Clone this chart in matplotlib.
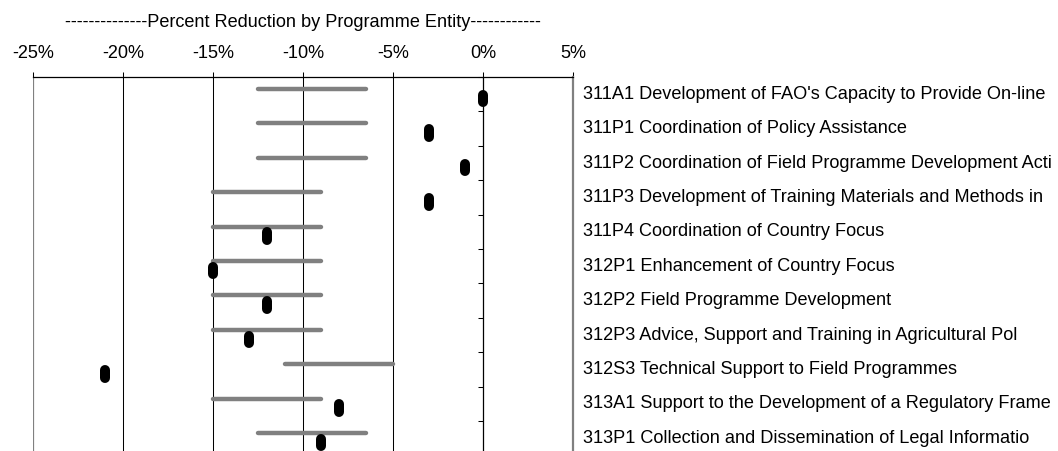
import matplotlib
matplotlib.use("Agg")
import matplotlib.pyplot as plt
from matplotlib import transforms

plt.rcParams['font.family'] = ['Liberation Sans', 'DejaVu Sans']

categories = [
    "311A1 Development of FAO's Capacity to Provide On-line",
    "311P1 Coordination of Policy Assistance",
    "311P2 Coordination of Field Programme Development Acti",
    "311P3 Development of Training Materials and Methods in",
    "311P4 Coordination of Country Focus",
    "312P1 Enhancement of Country Focus",
    "312P2 Field Programme Development",
    "312P3 Advice, Support and Training in Agricultural Pol",
    "312S3 Technical Support to Field Programmes",
    "313A1 Support to the Development of a Regulatory Frame",
    "313P1 Collection and Dissemination of Legal Informatio",
]
range_low = [-12.5, -12.5, -12.5, -15, -15, -15, -15, -15, -11, -15, -12.5]
range_mid = [-9.5, -9.5, -9.5, -12, -12, -12, -12, -12, -8, -12, -9.5]
range_high = [-6.5, -6.5, -6.5, -9, -9, -9, -9, -9, -5, -9, -6.5]
reduction = [0, -3, -1, -3, -12, -15, -12, -13, -21, -8, -9]
xticks = [-25, -20, -15, -10, -5, 0, 5]
xtick_labels = ["-25%", "-20%", "-15%", "-10%", "-5%", "0%", "5%"]
title = "--------------Percent Reduction by Programme Entity------------"

W, H = 1058, 451
fig = plt.figure(figsize=(W / 100, H / 100), dpi=100)
left_px, right_px, top_px = 33.3, 573.3, 77.0
row_px = 34.4
n = len(categories)
bottom_px = top_px + n * row_px
ax = fig.add_axes([left_px / W, 1 - bottom_px / H, (right_px - left_px) / W, (bottom_px - top_px) / H])
ax.set_xlim(xticks[0], xticks[-1])
ax.set_ylim(n - 0.5, -0.5)

fs = 13.1
# x axis on top
ax.xaxis.tick_top()
ax.set_xticks(xticks)
ax.set_xticklabels(xtick_labels, fontsize=fs)
ax.tick_params(axis='x', direction='out', length=3.6, width=0.75, color='black', pad=7)

# spines
ax.spines['top'].set_color('black')
ax.spines['top'].set_linewidth(0.9)
ax.spines['bottom'].set_visible(False)
ax.spines['right'].set_color('#808080')
ax.spines['right'].set_linewidth(1.6)
ax.spines['left'].set_position(('data', 0))
ax.spines['left'].set_color('black')
ax.spines['left'].set_linewidth(0.9)
ax.spines['left'].set_zorder(1)

# category ticks at boundaries on the 0% axis
ax.set_yticks([k + 0.5 for k in range(-1, n)])
ax.set_yticklabels([])
ax.tick_params(axis='y', direction='out', length=3.6, width=0.75, color='black', left=True, right=False)

# gridlines and left border
for xv in xticks[1:-2]:
    ax.axvline(xv, color='black', lw=0.75, zorder=1)
ax.axvline(xticks[0], color='#808080', lw=1.6, zorder=1)

ys = list(range(n))
# range lines (gray)
for i in ys:
    ax.plot([range_low[i], range_mid[i], range_high[i]], [i - 0.15] * 3,
            color='#808080', lw=3.2, solid_capstyle='round', zorder=3)
# reduction markers (black rounded bars)
lc = ax.vlines(reduction, [y + 0.13 - 0.11 for y in ys], [y + 0.13 + 0.11 for y in ys],
               colors='black', linewidth=7.2, zorder=4)
lc.set_capstyle('round')

# category labels on the right
trans = transforms.blended_transform_factory(ax.transAxes, ax.transData)
offset = transforms.ScaledTranslation(9.4 / 100, 0, fig.dpi_scale_trans)
for i, c in enumerate(categories):
    ax.text(1, i, c, transform=trans + offset, ha='left', va='center', fontsize=fs, clip_on=False)

fig.text((left_px + right_px) / 2 / W, 1 - 22.5 / H, title, ha='center', va='center', fontsize=fs)

fig.savefig("out.png", dpi=100)
